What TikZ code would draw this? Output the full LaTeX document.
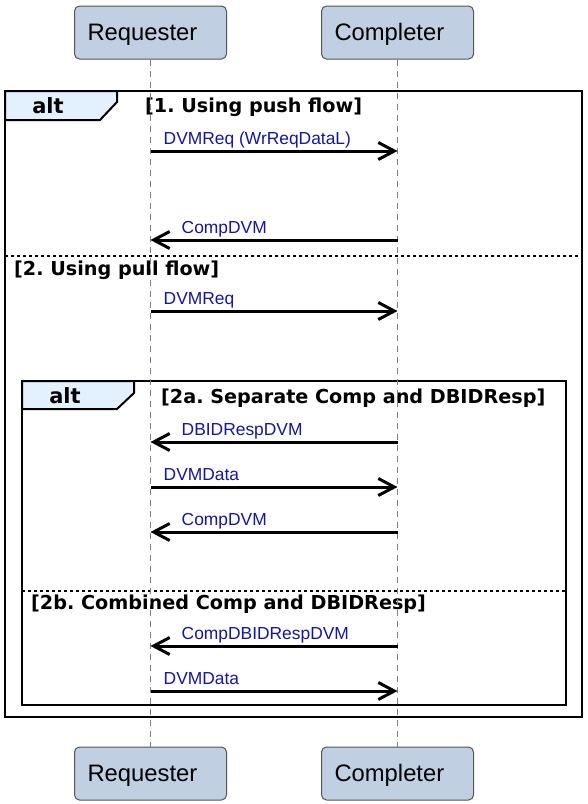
\documentclass[tikz,border=0pt]{standalone}
\usepackage{fontspec}
\setmainfont{Liberation Sans}
\newfontfamily\guardfont{DejaVu Sans}
\usepackage{tikz}
\usetikzlibrary{arrows.meta}
\usetikzlibrary{positioning}
\definecolor{participant-fill}{HTML}{C0CFE2}
\definecolor{participant-draw}{HTML}{555555}
\definecolor{tab-fill}{HTML}{E3F0FD}
\definecolor{msg-blue}{HTML}{16169A}
\frenchspacing
\tikzset{seq-participant/.style={draw=participant-draw, fill=participant-fill, line width=1pt, rounded corners=5pt, minimum height=53pt, text width=126pt, text height=17pt, text depth=2pt, inner xsep=13pt, inner ysep=0pt, align=left, font=\fontsize{23.8}{27}\selectfont}}
\tikzset{seq-lifeline/.style={draw=black!50, line width=1pt, dash pattern=on 6pt off 5pt}}
\tikzset{seq-msg/.style={line width=3pt, -{Straight Barb[length=16pt, width=17pt]}}}
\tikzset{seq-label/.style={text=msg-blue, font=\fontsize{17.4}{20}\selectfont, inner sep=0pt, anchor=base west}}
\tikzset{seq-frame/.style={draw, line width=2pt}}
\tikzset{seq-tab/.style={draw, fill=tab-fill, line width=2pt}}
\tikzset{seq-keyword/.style={font=\guardfont\bfseries\fontsize{21}{25}\selectfont, inner sep=0pt, anchor=base}}
\tikzset{seq-guard/.style={font=\guardfont\bfseries\fontsize{19.2}{23}\selectfont, inner sep=0pt, anchor=base west}}
\tikzset{seq-else/.style={line width=1.5pt, dash pattern=on 3pt off 3pt}}

\begin{document}
\begin{tikzpicture}[x=1pt, y=-1pt]
            \useasboundingbox (0,0) rectangle (588,804);

            \node[seq-participant] (requester-top) at (150.5,32.5) {Requester};
            \node[seq-participant, right=94pt of requester-top] (completer-top) {Completer};
            \node[seq-participant, below=687pt of requester-top] (requester-bottom) {Requester};
            \node[seq-participant, below=687pt of completer-top] (completer-bottom) {Completer};

            % outer alt
            \draw[seq-frame] (5,91) rectangle (582,717);
            \draw[seq-tab] (5,91) -- (117,91) -- (117,102) -- (100,120) -- (5,120) -- cycle;
            \node[seq-keyword] (alt1) at (48,113) {alt};
            \node[seq-guard] (guard1) at (145,112) {[1. Using push flow]};
            \draw[seq-else] (5,256) -- (582,256);
            \node[seq-guard] (guard2) at (14,275) {[2. Using pull flow]};

            % inner alt
            \draw[seq-frame] (22,381) rectangle (566,705);
            \draw[seq-tab] (22,381) -- (134,381) -- (134,393) -- (117,409) -- (22,409) -- cycle;
            \node[seq-keyword] (alt2) at (65,403) {alt};
            \node[seq-guard] (guard3) at (161,403) {[2a. Separate Comp and DBIDResp]};
            \draw[seq-else] (22,591) -- (566,591);
            \node[seq-guard] (guard4) at (31,609) {[2b. Combined Comp and DBIDResp]};

            \draw[seq-lifeline] (requester-top) -- (requester-bottom);
            \draw[seq-lifeline] (completer-top) -- (completer-bottom);

            \coordinate (req1) at (requester-top |- 0,151);
            \coordinate (comp1) at (completer-top |- 0,151);
            \coordinate (req2) at (requester-top |- 0,240);
            \coordinate (comp2) at (completer-top |- 0,240);
            \coordinate (req3) at (requester-top |- 0,311);
            \coordinate (comp3) at (completer-top |- 0,311);
            \coordinate (req4) at (requester-top |- 0,442);
            \coordinate (comp4) at (completer-top |- 0,442);
            \coordinate (req5) at (requester-top |- 0,487);
            \coordinate (comp5) at (completer-top |- 0,487);
            \coordinate (req6) at (requester-top |- 0,532);
            \coordinate (comp6) at (completer-top |- 0,532);
            \coordinate (req7) at (requester-top |- 0,646);
            \coordinate (comp7) at (completer-top |- 0,646);
            \coordinate (req8) at (requester-top |- 0,691);
            \coordinate (comp8) at (completer-top |- 0,691);

            \draw[seq-msg] (req1) -- (comp1);
            \draw[seq-msg] (comp2) -- (req2);
            \draw[seq-msg] (req3) -- (comp3);
            \draw[seq-msg] (comp4) -- (req4);
            \draw[seq-msg] (req5) -- (comp5);
            \draw[seq-msg] (comp6) -- (req6);
            \draw[seq-msg] (comp7) -- (req7);
            \draw[seq-msg] (req8) -- (comp8);

            \node[seq-label, xshift=13pt, yshift=7pt] (msg1) at (req1) {DVMReq (WrReqDataL)};
            \node[seq-label, xshift=31pt, yshift=7pt] (msg2) at (req2) {CompDVM};
            \node[seq-label, xshift=13pt, yshift=7pt] (msg3) at (req3) {DVMReq};
            \node[seq-label, xshift=31pt, yshift=7pt] (msg4) at (req4) {DBIDRespDVM};
            \node[seq-label, xshift=13pt, yshift=7pt] (msg5) at (req5) {DVMData};
            \node[seq-label, xshift=31pt, yshift=7pt] (msg6) at (req6) {CompDVM};
            \node[seq-label, xshift=31pt, yshift=7pt] (msg7) at (req7) {CompDBIDRespDVM};
            \node[seq-label, xshift=13pt, yshift=7pt] (msg8) at (req8) {DVMData};

        \end{tikzpicture}
\end{document}
